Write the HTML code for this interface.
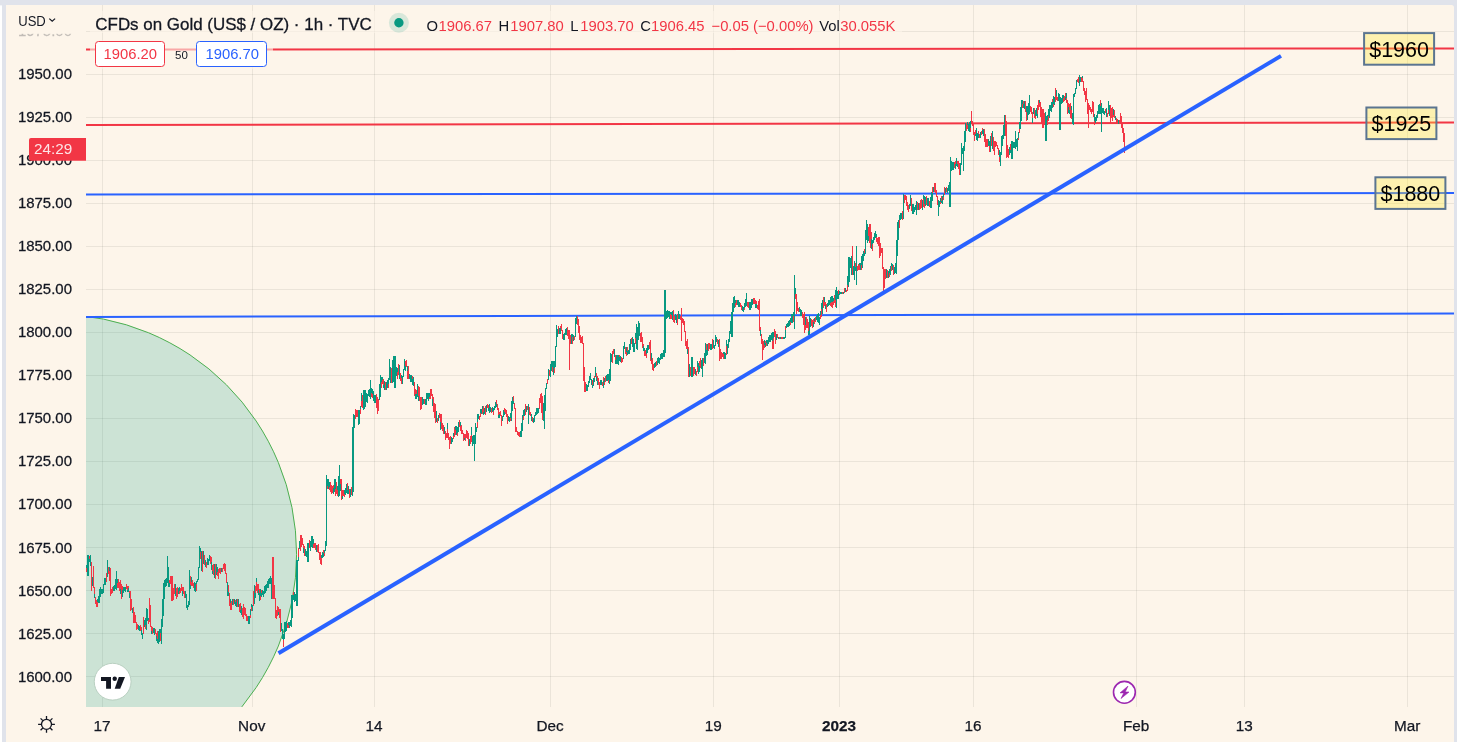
<!DOCTYPE html>
<html><head><meta charset="utf-8"><style>
html,body{margin:0;padding:0;width:1457px;height:742px;overflow:hidden;background:#e0e3eb;}
svg{position:absolute;left:0;top:0;}
text{font-family:"Liberation Sans", sans-serif;}
</style></head><body>
<svg width="1457" height="742" viewBox="0 0 1457 742" style="will-change:transform">
<defs>
<clipPath id="chart"><rect x="86" y="5" width="1368" height="702"/></clipPath>
<clipPath id="panel"><rect x="6" y="5" width="1448" height="740" rx="2.5"/></clipPath>
</defs>
<rect x="0" y="5" width="2" height="745" fill="#fff" rx="1.5"/>
<rect x="6" y="5" width="1448" height="740" rx="2.5" fill="#fdf5ea"/>

<g clip-path="url(#chart)" stroke="rgba(50,60,50,0.085)" stroke-width="1">
<path d="M86 676.5H1454"/>
<path d="M86 633.5H1454"/>
<path d="M86 590.5H1454"/>
<path d="M86 547.5H1454"/>
<path d="M86 504.5H1454"/>
<path d="M86 461.5H1454"/>
<path d="M86 418.5H1454"/>
<path d="M86 375.5H1454"/>
<path d="M86 332.5H1454"/>
<path d="M86 289.5H1454"/>
<path d="M86 246.5H1454"/>
<path d="M86 203.5H1454"/>
<path d="M86 160.5H1454"/>
<path d="M86 117.5H1454"/>
<path d="M86 74.5H1454"/>
<path d="M86 31.5H1454"/>
<path d="M102.5 5V707"/>
<path d="M252.5 5V707"/>
<path d="M374.5 5V707"/>
<path d="M550.5 5V707"/>
<path d="M713.5 5V707"/>
<path d="M839.5 5V707"/>
<path d="M973.5 5V707"/>
<path d="M1136.5 5V707"/>
<path d="M1244.5 5V707"/>
<path d="M1407.5 5V707"/>
</g>
<g clip-path="url(#chart)"><circle cx="56.8" cy="554.3" r="239.8" fill="rgba(8,153,129,0.2)" stroke="#4caf50" stroke-width="1"/></g>
<g clip-path="url(#chart)" fill="none">
<path d="M86 49.6L1454 48.4" stroke="#f23645" stroke-width="2"/>
<path d="M86 125.0L1454 122.4" stroke="#f23645" stroke-width="2"/>
<path d="M86 194.4L1454 193.0" stroke="#2962ff" stroke-width="2"/>
<path d="M86 316.9L1454 313.6" stroke="#2962ff" stroke-width="2"/>
</g>
<g clip-path="url(#chart)" fill="none" stroke-width="1" shape-rendering="crispEdges">
<path d="M86 564.8V568.4M87 554.7V575.7M88 554.7V575.7M89 558.8V562.1M90 554.9V565.6M92 577.2V585.6M94 593.9V598.0M97 599.0V602.1M98 596.2V602.7M99 589.4V602.8M100 587.2V596.7M101 589.4V594.2M102 588.9V594.0M103 583.5V592.7M104 578.1V584.8M105 577.8V584.6M107 560.4V576.6M109 566.8V571.4M113 585.7V591.1M114 585.0V591.0M115 579.3V589.3M116 571.0V589.6M117 579.4V583.4M120 589.0V593.7M122 589.8V597.4M123 587.2V593.0M124 586.8V591.1M125 586.5V591.6M127 589.5V591.7M128 587.8V592.1M129 593.3V598.4M132 607.5V612.8M138 625.3V629.9M139 625.6V630.5M141 629.8V634.5M142 632.6V638.5M144 619.5V627.4M145 618.0V625.0M146 608.2V629.9M147 608.9V620.6M148 617.6V619.7M151 631.2V634.4M153 628.4V633.0M154 628.4V634.6M156 636.3V640.7M157 639.4V643.4M158 631.4V644.4M159 628.5V642.2M160 629.0V632.7M161 619.1V643.9M162 598.9V626.8M163 583.4V616.0M164 580.3V598.9M165 578.5V586.6M166 578.2V585.6M167 555.5V583.4M168 567.1V586.5M169 583.0V587.0M175 583.6V595.7M178 588.2V594.2M179 587.0V591.2M182 590.9V595.8M185 590.8V598.2M186 594.3V608.2M187 605.2V610.0M188 600.6V606.7M189 569.5V605.1M190 584.7V589.1M191 577.3V582.2M194 581.9V590.8M195 583.1V591.8M196 580.7V584.2M197 578.8V581.9M198 567.3V580.3M199 546.0V568.3M200 547.5V552.4M201 551.3V571.0M203 550.9V564.1M205 560.2V566.8M207 558.3V565.3M208 558.6V564.8M209 554.9V561.4M211 562.2V569.6M212 571.2V574.1M214 563.5V577.7M216 563.8V574.7M217 567.2V571.9M221 568.3V572.1M227 581.8V596.2M228 592.0V596.2M230 598.8V603.4M232 599.2V604.9M234 599.0V604.3M235 601.5V605.7M236 599.2V607.1M238 598.6V607.1M240 609.6V612.9M241 605.8V615.0M248 616.2V623.8M249 616.1V624.0M250 609.4V614.6M251 603.9V607.3M252 605.1V610.8M254 584.6V603.8M255 593.1V598.0M256 578.2V582.4M258 590.1V595.1M259 593.2V601.0M260 589.2V596.4M261 592.5V597.3M262 590.3V595.4M263 590.6V596.7M264 585.5V594.2M265 585.4V592.9M266 583.6V591.1M267 581.4V588.3M268 579.4V588.1M269 577.6V583.8M270 575.8V583.5M271 577.6V598.6M278 611.9V615.3M281 622.9V631.0M282 628.7V638.8M283 634.2V639.6M284 621.5V638.8M285 622.1V631.5M286 621.4V631.1M288 622.2V624.9M289 621.5V627.8M290 619.8V625.8M291 595.1V626.6M292 595.1V617.9M293 594.8V599.9M294 592.3V602.0M295 594.2V600.9M296 560.0V605.6M297 560.0V605.6M298 556.9V561.0M299 540.9V548.8M303 547.7V553.0M305 549.2V556.2M306 550.7V557.0M307 542.5V561.8M308 542.5V561.8M310 540.8V550.9M311 535.8V547.0M312 536.3V547.7M313 539.1V544.2M316 545.2V552.0M321 555.3V558.3M322 551.6V557.7M323 552.8V557.4M324 549.8V552.8M325 540.8V550.8M326 474.5V545.7M327 479.2V485.7M328 479.3V488.7M329 481.6V487.0M333 488.2V493.7M334 478.9V491.7M335 479.1V489.3M337 485.6V489.9M338 475.8V497.2M339 464.8V496.1M340 484.1V490.7M342 495.5V498.6M344 489.7V494.2M345 488.0V494.8M346 483.6V493.0M347 489.5V493.9M348 486.0V493.6M350 489.2V496.8M352 427.0V496.1M353 414.1V491.8M354 415.3V428.2M358 410.0V424.7M359 410.0V424.1M360 405.5V409.3M361 392.9V401.2M363 390.3V409.8M364 390.3V408.6M365 390.4V406.9M366 392.9V402.4M367 393.7V402.6M368 389.7V395.8M369 388.6V396.7M370 379.5V399.0M371 388.4V392.6M372 389.1V394.1M373 391.0V400.9M374 395.1V402.5M375 395.0V403.3M379 384.3V399.5M380 375.2V396.8M381 377.0V381.5M382 377.4V379.9M383 384.8V388.2M384 380.5V389.8M386 381.7V390.3M387 379.7V388.1M388 377.7V383.7M389 359.0V379.5M390 366.8V383.2M392 360.2V382.6M393 355.8V381.7M394 355.8V388.2M395 355.8V388.2M396 367.1V376.3M397 367.5V372.1M399 365.2V379.1M401 375.3V378.1M402 375.5V383.8M403 368.6V376.5M404 358.6V370.1M405 365.7V370.6M407 365.9V371.0M409 373.5V378.6M410 375.4V381.6M411 375.4V381.6M412 379.2V384.6M413 376.8V385.5M415 394.2V398.6M416 393.7V398.7M417 383.8V396.7M418 395.8V400.8M422 396.9V404.5M423 399.2V403.7M425 398.5V404.7M426 392.6V404.5M427 392.8V398.9M428 392.8V401.1M429 392.7V396.9M432 398.6V405.8M436 411.3V421.5M438 415.2V421.0M440 421.8V429.7M444 427.4V433.9M447 423.1V429.0M451 437.3V444.2M452 438.2V441.9M453 432.5V435.7M455 426.2V429.9M456 426.3V434.6M457 427.4V433.1M458 421.7V432.1M460 422.3V426.1M464 437.6V440.3M469 438.6V446.2M471 427.4V434.9M472 436.4V445.5M473 435.3V443.7M474 434.6V460.7M475 422.5V444.3M476 426.6V432.1M477 413.8V421.8M478 414.0V418.8M480 409.1V412.5M481 408.8V413.9M482 405.7V408.8M483 411.5V415.1M484 408.1V413.7M486 405.0V411.5M488 408.0V411.3M489 404.4V412.5M490 407.0V411.9M492 406.7V411.5M493 408.1V410.9M494 405.5V410.3M495 402.3V407.7M496 404.0V406.7M498 414.5V417.6M499 414.3V418.3M502 416.4V421.3M503 410.3V417.4M504 412.0V415.1M508 416.4V421.3M509 417.2V421.7M510 412.7V418.0M511 400.6V421.3M512 397.1V410.9M513 400.6V404.2M520 431.3V436.8M521 422.7V436.6M522 415.4V431.2M523 410.3V416.3M524 409.4V415.6M526 406.4V412.1M528 404.3V423.7M531 413.7V421.1M533 417.6V422.5M534 414.6V422.2M535 411.5V415.6M536 408.2V414.8M537 408.0V413.5M538 407.9V412.8M543 403.1V421.3M544 394.6V428.5M545 388.3V410.5M546 382.5V389.3M548 369.2V380.2M550 363.7V376.7M551 360.9V370.9M552 360.7V367.1M553 360.7V375.4M554 361.4V368.2M555 345.8V367.4M556 324.9V346.8M557 329.3V337.1M559 328.0V333.6M560 328.1V333.7M563 334.4V339.9M564 332.5V339.8M565 328.8V334.8M566 327.5V335.0M571 333.8V344.3M572 334.0V337.1M573 334.5V341.2M575 318.2V337.3M576 315.8V324.2M586 384.0V391.2M587 385.3V391.2M588 381.0V387.0M589 375.8V382.7M590 373.1V380.3M591 379.2V384.9M592 385.3V388.4M593 378.3V386.3M594 377.9V381.8M595 367.4V376.6M596 377.2V380.9M597 380.6V384.8M600 380.0V384.8M601 379.7V384.9M603 380.7V387.6M604 378.3V381.8M606 375.2V381.1M607 374.4V380.7M608 374.3V380.1M609 369.0V383.6M610 352.6V380.9M611 354.1V362.0M614 348.7V356.9M615 359.5V364.3M616 354.8V364.3M617 354.5V363.6M618 355.3V364.7M619 357.3V361.0M620 355.5V362.0M623 345.9V358.7M624 341.8V348.8M626 347.4V352.4M627 351.3V354.5M628 350.1V354.3M629 343.9V353.8M630 339.4V350.1M632 336.8V347.1M633 339.3V352.4M634 342.9V352.1M635 332.8V338.4M636 323.6V348.5M637 327.0V349.9M638 320.9V340.4M639 323.2V335.9M643 346.4V351.1M644 347.8V350.7M646 348.3V354.3M647 344.9V352.6M648 344.7V350.0M651 352.5V359.9M654 362.5V367.7M655 362.0V367.4M657 357.7V364.7M658 357.4V362.9M659 358.0V363.8M660 354.0V359.7M661 352.6V359.3M662 352.9V359.3M663 350.1V357.3M664 290.1V356.6M665 290.1V352.8M666 310.9V319.0M667 310.3V318.3M668 311.3V317.2M669 311.4V319.1M670 311.7V314.1M671 311.8V314.8M672 310.9V320.2M675 314.1V320.4M676 315.1V323.3M678 311.0V319.1M679 314.0V318.9M687 348.8V354.0M689 364.1V376.7M691 356.9V377.1M692 356.9V377.1M695 369.4V374.9M697 360.7V366.6M698 363.3V374.1M699 366.2V371.7M701 359.7V368.9M702 358.2V377.1M704 352.8V362.6M705 343.4V363.6M706 349.5V356.2M707 344.3V354.8M710 343.6V350.1M711 344.0V349.9M713 340.1V348.2M714 345.0V349.0M715 335.2V346.0M716 337.4V342.2M718 339.6V347.1M723 351.5V354.3M724 351.7V359.4M725 353.3V359.0M726 339.8V345.8M727 343.5V354.0M728 339.4V348.2M729 331.3V341.9M730 321.1V333.6M731 312.4V336.6M732 302.9V336.6M733 296.6V312.3M734 296.3V308.2M735 299.9V302.7M737 299.5V304.5M738 300.2V306.9M739 301.9V306.5M742 306.0V311.3M743 307.2V312.0M744 303.0V307.7M745 298.8V306.7M746 293.1V306.1M749 301.8V310.4M750 302.0V309.7M751 298.9V308.0M752 298.9V305.2M755 304.1V307.7M756 303.5V307.5M760 330.1V336.3M764 339.5V345.1M765 342.9V346.9M766 340.0V342.7M767 339.6V345.7M768 337.4V343.7M769 334.9V341.6M770 334.9V341.6M771 332.8V340.1M772 331.6V341.4M773 332.3V337.8M776 333.6V340.3M778 337.0V339.0M780 337.0V339.0M783 337.0V339.0M784 337.0V339.0M785 330.1V338.0M786 323.7V328.3M787 323.1V327.3M788 321.0V326.5M789 320.3V326.2M790 318.0V321.5M791 313.9V323.2M792 314.1V323.1M793 312.2V316.4M794 275.4V329.1M795 287.9V294.4M799 306.5V312.1M800 308.6V316.4M801 309.8V315.8M805 316.9V324.9M808 330.6V335.4M809 316.4V337.6M810 317.6V326.7M813 322.1V326.9M814 318.0V320.9M816 316.0V320.2M817 313.9V322.0M818 312.5V322.5M819 317.2V325.2M820 310.8V314.7M821 302.9V308.7M822 299.5V313.5M824 297.2V301.9M825 304.8V308.8M827 303.3V307.4M828 299.8V306.0M829 299.6V305.3M830 296.8V302.9M831 296.0V301.6M832 295.8V301.9M833 297.7V301.1M835 289.5V300.2M836 286.7V307.9M837 290.8V299.3M838 293.7V298.8M839 290.5V294.5M840 292.3V294.3M841 292.3V294.3M843 292.3V294.3M845 288.1V292.3M847 275.7V284.5M848 257.0V286.7M849 257.0V282.4M850 257.5V268.0M851 255.6V275.4M853 265.6V274.8M854 261.2V279.6M855 267.4V271.2M856 245.7V285.3M859 262.8V264.9M860 262.5V270.1M861 256.1V264.9M862 253.8V268.0M863 251.4V260.5M864 253.3V255.5M865 230.0V254.3M866 220.3V239.7M867 223.5V243.0M868 236.0V241.3M871 239.4V249.2M872 239.9V244.0M873 237.1V242.5M874 233.3V239.8M875 231.3V238.2M876 233.6V237.0M886 269.4V278.4M888 271.0V277.5M889 269.3V272.8M890 265.7V274.8M891 262.8V265.5M892 263.6V270.0M894 267.0V274.3M895 262.7V273.3M896 239.7V273.7M897 221.9V255.9M898 220.3V239.7M899 214.5V220.0M900 212.9V220.1M901 212.5V219.1M903 194.4V218.7M909 204.1V209.0M910 194.7V205.7M912 204.2V213.7M913 203.5V213.5M914 207.4V212.2M915 205.4V210.2M916 201.2V215.0M918 202.7V210.1M922 199.6V210.1M923 194.5V198.7M924 195.6V204.0M925 196.6V206.3M927 197.7V205.7M928 197.9V205.5M930 196.6V208.2M931 192.1V207.6M932 192.6V201.1M933 186.6V191.6M938 200.3V216.4M939 200.9V207.2M940 198.0V201.9M941 200.5V202.5M942 196.1V203.9M943 194.2V196.8M945 187.5V192.5M947 188.1V193.4M948 184.7V191.2M949 181.5V207.4M950 157.2V207.4M951 160.5V170.8M952 161.6V170.4M953 162.4V169.5M955 163.5V168.7M956 157.9V165.8M957 164.2V166.9M960 162.7V174.7M961 143.3V165.1M962 148.3V154.3M963 145.7V171.2M964 131.1V150.5M965 122.6V142.0M967 121.8V124.6M968 124.1V131.0M969 121.7V131.7M970 120.7V127.6M975 134.2V136.4M976 128.1V140.3M977 132.5V140.6M978 133.6V138.2M980 131.8V138.3M982 130.3V134.4M983 128.8V135.6M988 139.0V145.8M989 141.0V145.7M990 136.0V152.2M992 131.1V149.3M999 149.8V157.0M1000 151.7V166.3M1001 136.0V155.4M1002 135.1V146.2M1003 125.3V139.2M1004 115.3V136.0M1009 147.3V155.0M1010 149.6V152.9M1011 140.8V159.0M1012 140.8V159.0M1013 142.3V147.6M1014 141.5V148.4M1015 131.1V149.3M1016 139.3V147.1M1017 138.4V150.5M1018 132.1V137.5M1019 121.7V129.0M1020 106.8V128.7M1021 99.6V121.4M1022 100.2V103.7M1023 103.8V108.0M1024 100.6V108.5M1026 105.8V112.4M1027 106.1V120.1M1028 103.4V114.8M1029 95.3V114.1M1032 118.0V122.8M1033 108.1V114.1M1035 110.2V115.8M1036 108.3V116.3M1037 113.6V118.0M1039 99.7V103.4M1045 112.4V140.5M1046 116.2V140.5M1047 115.3V120.1M1048 108.9V116.3M1049 105.0V117.5M1050 105.3V111.3M1051 102.2V112.2M1052 102.2V108.0M1053 96.0V103.5M1054 96.8V104.7M1056 89.7V96.1M1058 92.8V100.6M1059 94.4V130.3M1060 97.0V130.3M1061 98.2V103.6M1062 94.6V102.6M1063 95.4V97.7M1065 97.3V99.7M1066 93.4V97.9M1068 106.8V113.1M1069 110.3V113.5M1071 106.1V110.2M1072 112.9V123.9M1073 94.4V125.2M1074 93.2V97.0M1075 87.9V94.2M1076 79.9V88.9M1079 75.2V85.9M1080 76.6V81.9M1082 75.5V77.8M1094 113.7V121.0M1095 117.1V122.9M1096 114.7V121.2M1097 111.1V118.4M1098 104.8V113.6M1099 104.3V113.5M1100 106.4V113.5M1101 103.4V131.6M1102 107.6V113.3M1103 107.7V114.4M1104 110.7V114.8M1106 107.7V117.0M1108 100.7V110.0M1109 105.0V115.9M1113 108.5V114.5M1115 115.5V120.0M1118 120.1V123.9" stroke="#089981" transform="translate(0.5,0)"/>
<path d="M86 568.4V571.7M89 556.0V558.8M91 561.7V591.2M93 566.4V588.1M94 586.6V593.9M95 597.0V604.3M96 600.2V607.3M97 602.1V607.0M106 572.6V581.8M108 567.1V574.4M109 571.4V581.1M110 567.9V595.8M111 588.6V594.3M112 586.5V592.5M117 583.4V587.6M118 578.8V588.4M119 581.7V591.1M120 580.0V589.0M121 583.9V598.8M122 586.1V589.8M126 583.5V589.0M127 585.5V589.5M128 585.6V587.8M129 591.1V593.3M130 591.2V611.3M131 599.2V609.8M133 607.1V622.6M134 611.8V623.3M135 614.9V623.2M136 622.2V629.6M137 624.0V629.3M140 625.3V631.4M141 626.9V629.8M143 616.5V633.6M145 625.0V629.4M148 619.7V623.7M149 598.1V622.2M150 605.1V626.8M151 625.8V631.2M152 627.1V634.1M155 629.3V634.4M156 633.4V636.3M157 631.4V639.4M160 632.7V641.1M169 580.2V583.0M170 576.4V584.4M171 575.7V600.5M172 575.7V600.5M173 587.9V599.6M174 583.9V593.7M176 588.2V599.1M177 587.0V597.3M179 591.2V594.2M180 587.9V592.5M181 583.9V591.1M182 586.5V590.9M183 586.9V594.3M184 591.1V597.7M190 575.9V584.7M191 582.2V585.8M192 579.6V586.4M193 583.4V588.1M196 584.2V591.0M200 552.4V558.7M202 550.9V572.3M204 554.6V565.3M206 562.4V568.2M210 555.9V564.4M211 556.9V562.2M212 564.9V571.2M213 563.9V574.5M215 564.1V579.0M217 571.9V575.9M218 569.3V579.0M219 567.5V573.2M220 568.3V573.6M222 567.5V572.1M223 563.6V568.8M224 563.0V571.3M225 563.8V573.9M226 572.9V582.8M228 585.1V592.0M229 592.8V606.2M230 603.4V610.1M231 600.7V610.1M233 598.9V605.4M235 599.5V601.5M237 599.2V606.7M239 603.7V612.4M240 602.6V609.6M242 607.5V617.1M243 604.2V618.5M244 607.4V614.8M245 607.7V616.0M246 614.3V621.0M247 616.1V621.2M250 614.6V617.6M251 607.3V610.7M253 590.6V606.1M255 585.9V593.1M256 582.4V591.2M257 584.3V593.4M258 583.8V590.1M259 588.8V593.2M260 596.4V600.1M261 590.0V592.5M272 557.4V598.6M273 557.4V598.6M274 585.2V598.5M275 597.5V617.9M276 609.6V618.6M277 605.7V616.0M278 606.5V611.9M279 609.2V617.8M280 609.1V631.9M283 639.6V647.0M287 623.3V627.7M288 624.9V628.3M293 591.6V594.8M298 547.8V556.9M300 535.1V551.1M301 535.2V547.1M302 537.5V545.0M303 544.0V547.7M304 546.0V556.4M309 539.9V547.9M313 544.2V547.7M314 542.5V548.0M315 542.6V549.5M317 544.7V551.8M318 544.3V552.9M319 551.6V559.9M320 552.3V563.5M321 558.3V564.6M323 550.4V552.8M324 552.8V556.2M327 485.7V489.4M329 487.0V489.9M330 482.0V492.4M331 485.2V493.5M332 486.4V492.7M333 485.3V488.2M335 489.3V495.7M336 481.6V494.2M337 489.9V496.1M340 479.1V484.1M341 478.8V500.4M342 490.4V495.5M343 489.9V496.1M344 494.2V497.4M347 483.1V489.5M349 489.2V498.0M351 487.1V495.0M355 409.3V418.8M356 410.0V416.6M357 409.8V417.1M360 409.3V413.7M361 401.2V407.0M362 395.3V407.6M371 392.6V397.4M372 394.1V398.1M376 394.4V407.5M377 396.9V413.7M378 398.5V410.9M381 381.5V388.0M382 379.9V384.3M383 379.3V384.8M385 382.4V389.8M388 383.7V387.7M391 368.0V383.1M397 372.1V379.3M398 364.4V375.1M400 372.5V380.7M401 378.1V383.7M405 360.6V365.7M406 360.2V366.9M407 371.0V379.4M408 365.9V378.7M412 375.6V379.2M414 382.0V395.8M415 388.5V394.2M416 390.4V393.7M418 386.2V395.8M419 386.9V400.7M420 397.2V409.6M421 397.4V409.3M424 399.1V404.3M429 396.9V399.3M430 389.1V398.8M431 388.5V396.3M432 393.8V398.6M433 397.1V411.9M434 403.3V418.0M435 404.3V422.7M437 417.9V423.4M439 412.8V418.2M440 413.9V421.8M441 414.1V429.0M442 422.6V430.6M443 424.5V433.7M445 431.3V440.4M446 433.2V438.1M447 429.0V437.7M448 432.7V439.9M449 437.0V448.7M450 436.1V443.7M453 435.7V439.2M454 426.7V437.0M455 429.9V435.4M457 433.1V435.8M459 419.7V427.3M460 426.1V430.6M461 425.3V434.2M462 429.5V434.0M463 432.8V440.6M464 433.6V437.6M465 433.7V440.5M466 430.2V437.7M467 431.0V438.9M468 432.6V445.5M470 436.2V443.5M471 434.9V441.8M477 421.8V427.6M479 416.4V420.0M480 412.5V417.4M482 408.8V413.5M483 405.6V411.5M485 405.8V415.0M487 404.3V407.9M488 404.5V408.0M491 407.9V412.8M493 410.9V414.7M496 399.5V404.0M497 404.3V410.0M498 407.9V414.5M499 411.7V414.3M500 410.6V416.4M501 415.4V425.5M504 407.7V412.0M505 409.1V414.0M506 410.4V417.4M507 414.4V423.7M510 418.0V421.1M513 396.2V400.6M514 403.2V409.4M515 408.4V432.2M516 427.3V432.1M517 431.0V434.6M518 432.2V435.8M519 432.2V437.0M523 416.3V419.8M525 404.0V414.9M527 405.5V410.3M529 406.8V415.4M530 412.1V416.4M532 416.7V422.4M539 398.2V409.1M540 393.7V403.2M541 393.3V412.8M542 395.8V420.0M547 378.8V383.6M549 370.1V375.7M552 367.1V371.8M554 368.2V372.8M558 326.4V334.4M560 325.7V328.1M561 324.3V330.7M562 329.7V339.1M567 327.1V335.6M568 329.8V338.8M569 329.7V370.1M570 335.3V344.3M572 337.1V344.4M574 336.3V340.2M577 315.7V324.9M578 319.3V332.7M579 325.6V339.8M580 335.3V342.6M581 336.8V342.7M582 336.3V343.6M583 342.6V380.9M584 367.4V391.7M585 381.7V392.1M592 380.4V385.3M594 375.6V377.9M596 372.9V377.2M597 375.9V380.6M598 378.3V384.9M599 381.8V388.9M602 382.1V386.0M603 376.8V380.7M604 381.8V384.9M605 376.2V382.1M608 380.1V382.9M612 350.6V362.5M613 349.1V353.6M615 355.3V359.5M619 354.8V357.3M621 357.3V363.2M622 357.7V361.6M625 346.8V354.0M626 352.4V355.6M627 347.4V351.3M631 338.3V344.1M635 338.4V343.9M640 332.5V341.5M641 332.4V342.4M642 337.3V347.6M643 343.5V346.4M644 350.7V356.2M645 349.9V356.1M646 354.3V357.5M649 341.9V348.9M650 340.4V360.7M651 359.9V364.3M652 357.8V369.9M653 363.6V371.4M656 360.9V366.0M670 314.1V318.5M671 314.8V319.3M673 309.9V322.0M674 315.7V322.7M677 314.1V324.5M680 315.6V319.5M681 308.3V340.7M682 317.8V322.8M683 319.1V324.5M684 321.4V332.2M685 331.2V345.5M686 341.1V348.6M687 339.3V348.8M688 347.4V377.1M690 366.9V376.3M693 366.8V376.3M694 366.5V373.9M696 370.5V375.6M697 366.6V371.9M699 361.4V366.2M700 358.4V367.9M703 357.6V365.6M706 344.1V349.5M708 342.7V350.6M709 342.9V349.4M712 338.5V348.8M717 338.9V344.3M719 339.3V360.9M720 349.0V359.3M721 351.9V359.1M722 352.9V357.4M723 354.3V359.0M726 345.8V354.6M735 302.7V306.5M736 299.7V305.4M740 303.1V307.0M741 304.6V310.0M744 307.7V310.4M747 301.7V306.9M748 302.3V307.5M753 297.8V303.7M754 297.9V303.8M755 300.1V304.1M756 300.6V303.5M757 305.3V309.3M758 300.6V309.5M759 298.9V331.2M760 327.2V330.1M761 334.3V344.0M762 339.3V359.5M763 340.9V349.5M764 345.1V347.9M765 340.7V342.9M766 342.7V346.4M772 341.4V348.6M773 337.8V348.5M774 328.7V336.5M775 331.0V344.4M777 333.9V338.0M779 337.0V339.0M781 337.0V339.0M782 337.0V339.0M785 326.2V330.1M790 321.5V324.7M793 316.4V321.6M795 294.4V299.1M796 293.7V313.6M797 301.9V311.3M798 308.0V312.2M802 312.1V318.2M803 313.5V324.8M804 312.1V333.4M805 324.9V330.0M806 316.9V328.1M807 319.2V327.5M808 322.4V330.6M811 319.3V325.8M812 319.5V327.6M813 318.5V322.1M814 320.9V324.1M815 316.5V321.6M820 314.7V319.0M821 308.7V316.5M823 296.7V307.8M824 301.9V306.1M825 301.7V304.8M826 304.3V312.3M830 302.9V306.3M831 301.6V307.3M832 301.9V307.8M833 301.1V304.9M834 294.7V303.3M835 300.2V306.5M838 290.4V293.7M842 292.3V294.3M844 288.1V293.3M846 289.5V292.3M847 284.5V290.5M852 245.7V275.4M855 263.2V267.4M857 265.8V271.0M858 264.4V269.8M859 264.9V269.6M861 264.9V269.6M864 249.4V253.3M868 226.7V236.0M869 223.5V243.0M870 223.5V247.8M871 232.0V239.4M872 244.0V250.9M876 237.0V242.0M877 237.5V243.8M878 236.5V246.2M879 236.5V257.5M880 243.3V255.8M881 248.2V253.4M882 247.8V268.9M883 267.2V290.7M884 268.9V288.3M885 269.2V278.5M887 269.9V277.7M889 272.8V277.2M891 265.5V271.2M893 264.7V275.1M899 220.0V228.1M902 210.8V219.5M904 194.5V203.1M905 194.6V199.8M906 195.8V205.5M907 201.8V210.4M908 205.1V211.8M911 198.1V210.9M917 201.7V210.2M919 202.7V210.2M920 199.8V209.3M921 199.3V207.7M923 198.7V206.5M924 204.0V208.0M926 196.1V204.6M929 200.9V206.8M932 186.7V192.6M934 183.4V192.1M935 183.3V193.2M936 189.5V197.1M937 196.0V205.1M940 201.9V204.1M941 196.1V200.5M943 196.8V200.2M944 186.9V195.2M946 187.3V191.9M954 161.8V167.6M955 160.5V163.5M957 160.6V164.2M958 161.0V169.4M959 163.0V174.7M966 123.4V131.1M967 124.6V129.3M970 127.6V132.2M971 111.2V124.1M972 120.7V126.1M973 124.2V135.3M974 131.5V141.3M975 129.9V134.2M978 130.9V133.6M979 133.5V138.4M981 130.6V134.9M982 127.5V130.3M984 129.3V141.7M985 133.6V146.7M986 139.1V147.2M987 139.2V146.7M989 145.7V151.9M991 132.8V145.8M993 137.3V151.1M994 141.2V154.5M995 140.9V146.7M996 142.0V145.7M997 144.5V149.3M998 148.0V155.3M999 157.0V161.8M1005 115.3V136.0M1006 121.4V157.8M1007 144.5V156.6M1008 148.8V157.6M1010 144.0V149.6M1018 137.5V139.9M1019 129.0V133.1M1022 103.7V108.4M1023 101.1V103.8M1025 100.8V111.9M1026 112.4V121.2M1030 106.0V112.4M1031 106.9V113.9M1032 112.4V118.0M1034 108.1V118.4M1035 115.8V118.6M1037 105.0V113.6M1038 99.8V109.7M1039 103.4V106.6M1040 102.3V116.9M1041 107.0V123.1M1042 108.5V127.7M1043 108.5V127.5M1044 112.5V125.0M1047 120.1V125.1M1048 116.3V120.6M1052 99.0V102.2M1053 103.5V107.2M1055 87.5V101.8M1056 96.1V100.1M1057 96.7V101.3M1063 97.7V101.6M1064 95.5V100.6M1065 92.7V97.3M1066 97.9V102.6M1067 99.5V113.8M1068 102.6V106.8M1069 103.7V110.3M1070 102.7V118.3M1071 110.2V119.2M1077 78.7V82.4M1078 76.6V82.7M1081 76.8V81.5M1082 77.8V81.6M1083 80.6V90.5M1084 87.8V95.4M1085 90.9V102.3M1086 87.5V100.1M1087 99.1V114.3M1088 103.4V127.7M1089 104.8V109.5M1090 107.4V112.3M1091 108.7V113.5M1092 100.7V112.2M1093 102.2V117.4M1094 121.0V125.2M1100 99.5V106.4M1105 108.6V112.7M1107 113.3V117.1M1108 110.0V114.3M1110 104.7V123.9M1111 108.3V117.7M1112 107.3V121.3M1113 114.5V117.3M1114 109.9V118.4M1116 117.6V123.8M1117 118.8V122.6M1119 120.1V122.6M1120 113.1V122.5M1121 116.3V127.8M1122 123.2V133.0M1123 128.2V141.6M1124 132.9V152.7" stroke="#f23645" transform="translate(0.5,0)"/>
</g>
<path d="M278.5 653.3L1281 55.9" stroke="#2962ff" stroke-width="4" fill="none"/>
<rect x="1364.1" y="33.1" width="70" height="31.6" fill="rgba(255,233,59,0.33)" stroke="#5b7590" stroke-width="2"/>
<text x="1399.1" y="56.6" font-size="21.5" text-anchor="middle" fill="#000">$1960</text>
<rect x="1366.4" y="107.5" width="70" height="31.6" fill="rgba(255,233,59,0.33)" stroke="#5b7590" stroke-width="2"/>
<text x="1401.4" y="131.0" font-size="21.5" text-anchor="middle" fill="#000">$1925</text>
<rect x="1375.4" y="177.3" width="70" height="31.6" fill="rgba(255,233,59,0.33)" stroke="#5b7590" stroke-width="2"/>
<text x="1410.4" y="200.8" font-size="21.5" text-anchor="middle" fill="#000">$1880</text>
<g font-size="14.4" fill="#131722" stroke="#131722" stroke-width="0.25" text-anchor="end">
<text transform="translate(72.0,681.5) scale(1.04,1)">1600.00</text>
<text transform="translate(72.0,638.5) scale(1.04,1)">1625.00</text>
<text transform="translate(72.0,595.5) scale(1.04,1)">1650.00</text>
<text transform="translate(72.0,552.5) scale(1.04,1)">1675.00</text>
<text transform="translate(72.0,509.4) scale(1.04,1)">1700.00</text>
<text transform="translate(72.0,466.4) scale(1.04,1)">1725.00</text>
<text transform="translate(72.0,423.4) scale(1.04,1)">1750.00</text>
<text transform="translate(72.0,380.4) scale(1.04,1)">1775.00</text>
<text transform="translate(72.0,337.4) scale(1.04,1)">1800.00</text>
<text transform="translate(72.0,294.4) scale(1.04,1)">1825.00</text>
<text transform="translate(72.0,251.4) scale(1.04,1)">1850.00</text>
<text transform="translate(72.0,208.3) scale(1.04,1)">1875.00</text>
<text transform="translate(72.0,165.3) scale(1.04,1)">1900.00</text>
<text transform="translate(72.0,122.3) scale(1.04,1)">1925.00</text>
<text transform="translate(72.0,79.3) scale(1.04,1)">1950.00</text>
<text transform="translate(72.0,36.3) scale(1.04,1)" opacity="0.25">1975.00</text>
</g>
<rect x="6" y="5" width="80" height="28.8" fill="#fdf5ea"/>
<path d="M49.3 18.6l2.9 2.6 2.9-2.6" stroke="#131722" stroke-width="1.2" fill="none"/>
<path d="M31 138h55v22.8h-55a2 2 0 0 1-2-2v-18.8a2 2 0 0 1 2-2z" fill="#f23645"/>
<text x="34" y="154.2" font-size="15.3" fill="#fde4e6">24:29</text>
<rect x="90" y="11" width="812" height="22" fill="#fdf5ea" opacity="0.6"/>
<text transform="translate(95.3,30.2) scale(0.98,1)" font-size="17.3" fill="#131722" stroke="#131722" stroke-width="0.3">CFDs on Gold (US$ / OZ) · 1h · TVC</text>
<circle cx="398.9" cy="22.8" r="10" fill="rgba(8,153,129,0.15)"/><circle cx="398.9" cy="22.8" r="4.7" fill="#089981"/>
<text x="426.5" y="30.8" font-size="14.8" fill="#131722">O</text>
<text x="438.5" y="30.8" font-size="14.8" fill="#f23645">1906.67</text>
<text x="498.5" y="30.8" font-size="14.8" fill="#131722">H</text>
<text x="510.2" y="30.8" font-size="14.8" fill="#f23645">1907.80</text>
<text x="570.2" y="30.8" font-size="14.8" fill="#131722">L</text>
<text x="580.3" y="30.8" font-size="14.8" fill="#f23645">1903.70</text>
<text x="640.3" y="30.8" font-size="14.8" fill="#131722">C</text>
<text x="651" y="30.8" font-size="14.8" fill="#f23645">1906.45</text>
<text x="711.5" y="30.8" font-size="14.8" fill="#f23645">−0.05 (−0.00%)</text>
<text x="819.3" y="30.8" font-size="14.8" fill="#131722">Vol</text>
<text x="840.3" y="30.8" font-size="14.8" fill="#f23645">30.055K</text>
<rect x="90" y="40" width="183" height="29" fill="#fdf5ea" opacity="0.6"/>
<rect x="95.5" y="41.5" width="69" height="25" rx="3" fill="#fff" stroke="#f23645" stroke-width="1"/>
<text x="130.3" y="59" font-size="14.8" fill="#f23645" text-anchor="middle">1906.20</text>
<text x="181.5" y="59.2" font-size="11.5" fill="#131722" text-anchor="middle">50</text>
<rect x="196.5" y="41.5" width="70" height="25" rx="3" fill="#fff" stroke="#2962ff" stroke-width="1"/>
<text x="232.2" y="59" font-size="14.8" fill="#2962ff" text-anchor="middle">1906.70</text>
<circle cx="112.65" cy="681.7" r="18.4" fill="#fff" stroke="#b9d0c1" stroke-width="1"/>
<path d="M101 676.9h10v11.9h-4.9v-7.8h-5.1z" fill="#131722"/><circle cx="114.7" cy="678.7" r="2.2" fill="#131722"/><path d="M118.8 676.9h6.2l-4.8 11.9h-5.5z" fill="#131722"/>
<circle cx="1124.4" cy="692.3" r="10.9" fill="#fff" stroke="#9c27b0" stroke-width="1.6"/>
<path d="M1128.0 686.1L1120.0 692.9H1123.8L1121.0 698.5L1129.0 692.0H1125.2Z" fill="#9c27b0" stroke="#9c27b0" stroke-width="0.6" stroke-linejoin="round"/>
<g font-size="15.3" fill="#131722" stroke="#131722" stroke-width="0.25" text-anchor="middle">
<text x="102.0" y="731.0">17</text>
<text x="251.7" y="731.0">Nov</text>
<text x="374.0" y="731.0">14</text>
<text x="550.1" y="731.0">Dec</text>
<text x="713.3" y="731.0">19</text>
<text x="839.1" y="731.0" font-weight="bold">2023</text>
<text x="972.9" y="731.0">16</text>
<text x="1136.1" y="731.0">Feb</text>
<text x="1244.3" y="731.0">13</text>
<text x="1407.1" y="731.0">Mar</text>
</g>
<circle cx="46.5" cy="724.3" r="5.0" fill="none" stroke="#131722" stroke-width="1.3"/><path d="M51.70 724.30L54.90 724.30M50.18 727.98L52.44 730.24M46.50 729.50L46.50 732.70M42.82 727.98L40.56 730.24M41.30 724.30L38.10 724.30M42.82 720.62L40.56 718.36M46.50 719.10L46.50 715.90M50.18 720.62L52.44 718.36" stroke="#131722" stroke-width="1.3"/>
</svg>
<svg width="60" height="40" viewBox="0 0 60 40" style="position:absolute;left:0;top:0"><text x="18.2" y="26" font-size="15" fill="#131722" textLength="27.6" lengthAdjust="spacingAndGlyphs">USD</text></svg>
</body></html>
